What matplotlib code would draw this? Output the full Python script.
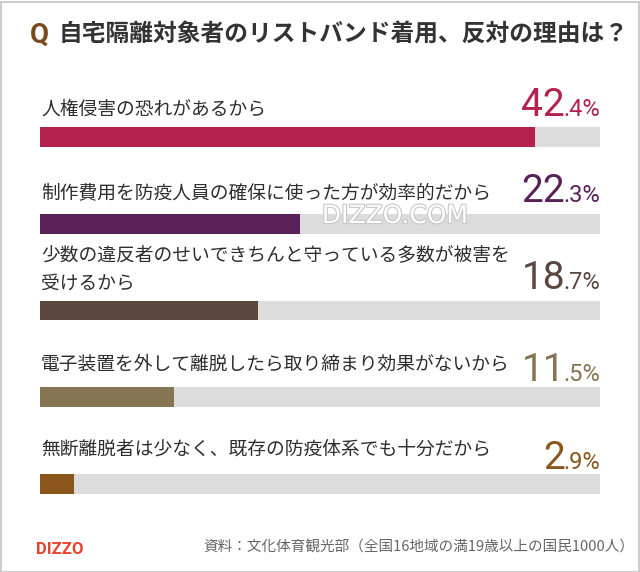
import matplotlib
matplotlib.use("Agg")
import matplotlib.pyplot as plt
from matplotlib.patches import Rectangle
import matplotlib.patheffects as pe

plt.rcParams['font.family'] = ['Noto Sans CJK JP', 'DejaVu Sans']

title = "自宅隔離対象者のリストバンド着用、反対の理由は？"
categories = [
    "人権侵害の恐れがあるから",
    "制作費用を防疫人員の確保に使った方が効率的だから",
    "少数の違反者のせいできちんと守っている多数が被害を\n受けるから",
    "電子装置を外して離脱したら取り締まり効果がないから",
    "無断離脱者は少なく、既存の防疫体系でも十分だから",
]
values = [42.4, 22.3, 18.7, 11.5, 2.9]
colors = ["#b3214c", "#5a2159", "#5b4740", "#857552", "#8a561c"]
source = "資料：文化体育観光部（全国16地域の満19歳以上の国民1000人）"

W, H = 640, 572
fig = plt.figure(figsize=(W / 100, H / 100), dpi=100)

def fx(px):
    return px / W

def fy(py):
    return 1 - py / H

# bar axes: pixel x 40..600, y 100..520
top_px, bot_px = 100, 520
ax = fig.add_axes([fx(40), fy(bot_px), fx(600) - fx(40), (bot_px - top_px) / H])
spacing = (484 - 137) / 4
y_top = -(137 - top_px) / spacing
y_bot = 4 + (bot_px - 484) / spacing
xmax = 48.0
ypos = list(range(len(values)))
ax.barh(ypos, [xmax] * len(values), height=0.23, color="#dcdcdc", zorder=1)
ax.barh(ypos, values, height=0.23, color=colors, zorder=2)
ax.set_xlim(0, xmax)
ax.set_ylim(y_bot, y_top)
ax.axis("off")

# title
fig.text(fx(30), fy(35), "Q", fontsize=20, fontweight="bold", color="#7a4b1c",
         ha="left", va="center", family=["Roboto", "DejaVu Sans"])
fig.text(fx(59), fy(35), title, fontsize=17.1, fontweight="bold", color="#333333",
         ha="left", va="center")

# category labels
label_y = [109, 193, 269, 364, 449]
for y, lab in zip(label_y, categories):
    fig.text(fx(41), fy(y), lab, fontsize=13.5, color="#2e2e2e", ha="left",
             va="center", linespacing=1.45)

# percentage labels
fig.canvas.draw()
renderer = fig.canvas.get_renderer()
pct_base = [116, 202, 289, 381, 469]
for yb, v, c in zip(pct_base, values, colors):
    s = f"{v:.1f}"
    ip, dp = s.split(".")
    t2 = fig.text(fx(600), fy(yb), "." + dp + "%", fontsize=17, color=c,
                  ha="right", va="baseline", family=["Roboto", "DejaVu Sans"])
    bb = t2.get_window_extent(renderer)
    fig.text((bb.x0 + 2) / W, fy(yb), ip, fontsize=28, color=c,
             ha="right", va="baseline", family=["Roboto", "DejaVu Sans"])

# watermark
fig.text(fx(395), fy(216), "DIZZO.COM", fontsize=18, color="#ffffff",
         ha="center", va="center", family=["DejaVu Sans"], zorder=5,
         path_effects=[pe.withStroke(linewidth=1.6, foreground="#c8c8c8")])

# footer
fig.text(fx(60), fy(549), "DIZZO", fontsize=12, fontweight="bold", color="#e8432c",
         ha="center", va="center", family=["Roboto", "DejaVu Sans"])
fig.text(fx(634), fy(548), source, fontsize=10.5, color="#666666",
         ha="right", va="center")

# border
fig.patches.append(Rectangle((0.5 / W, 0.5 / H), 1 - 2 / W, 1 - 2 / H,
                             transform=fig.transFigure, fill=False,
                             edgecolor="#c4c4c4", linewidth=1.2))

fig.savefig("out.png", dpi=100)
